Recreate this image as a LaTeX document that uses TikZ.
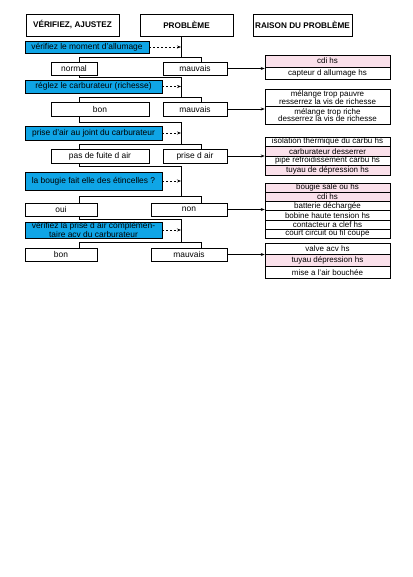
\documentclass[tikz,border=0pt]{standalone}
\usepackage{fontspec}
\setmainfont{Liberation Sans}
\usetikzlibrary{arrows.meta}
\definecolor{bleu}{RGB}{15,165,230}
\definecolor{rose}{RGB}{250,224,234}
\tikzset{
  every node/.style={font=\fontsize{8.4}{8}\selectfont, inner sep=0pt},
  tete/.style={draw, font=\fontsize{8.2}{8}\selectfont\bfseries, minimum height=22pt},
  test/.style={draw, fill=bleu},
  res/.style={draw, minimum height=13pt},
  cause/.style={draw, minimum width=125pt, align=center, font=\fontsize{8}{8}\selectfont},
  causer/.style={cause, fill=rose},
  fl/.style={-{Stealth[length=4pt,width=3pt]}},
  tir/.style={fl, dash pattern=on 2pt off 2pt},
}
\begin{document}
\begin{tikzpicture}[x=1pt, y=-1pt, line width=0.6pt]
\useasboundingbox (0,0) rectangle (412,577);
%en-tete
\node[tete, minimum width=93pt] (verif) at (72.5,25) {VÉRIFIEZ, AJUSTEZ};
\node[tete, minimum width=93pt] (prob) at (186.5,25) {PROBLÈME};
\node[tete, minimum width=99pt] (raison) at (302.5,25) {RAISON DU PROBLÈME};

%premier test
\node[test, minimum width=124pt, minimum height=12pt] (test1) at (87,47) {vérifiez le moment d'allumage};
\node[res, minimum width=46pt] (normal) at (74,68.5) {normal};
\node[res, minimum width=64pt] (mauv1) at (195,68.5) {mauvais};
\node[causer, minimum height=12pt] (cdi1) at (327.5,61) {cdi hs};
\node[cause, minimum height=12pt] (capt) at (327.5,73) {capteur d allumage hs};

%deuxieme test
\node[test, minimum width=137pt, minimum height=13pt] (test2) at (93.5,86.5) {réglez le carburateur (richesse)};
\node[res, minimum width=98pt, minimum height=14pt] (bon1) at (100,109) {bon};
\node[res, minimum width=64pt, minimum height=14pt] (mauv2) at (195,109) {mauvais};
\node[cause, minimum height=17.5pt] (pauvre) at (327.5,97.75) {mélange trop pauvre\\[-0.5pt]resserrez la vis de richesse};
\node[cause, minimum height=17.5pt] (riche) at (327.5,115.25) {mélange trop riche\\[-0.5pt]desserrez la vis de richesse};

%troisieme test
\node[test, minimum width=137pt, minimum height=14pt] (test3) at (93.5,133) {prise d'air au joint du carburateur};
\node[res, minimum width=98pt, minimum height=14pt] (fuite) at (100,156) {pas de fuite d air};
\node[res, minimum width=64pt, minimum height=14pt] (prise) at (195,156) {prise d air};
\node[cause, minimum height=9.5pt] (isol) at (327.5,141.75) {isolation thermique du carbu hs};
\node[causer, minimum height=9.5pt] (desser) at (327.5,151.25) {carburateur desserrer};
\node[cause, minimum height=9.5pt] (pipe) at (327.5,160.75) {pipe refroidissement carbu hs};
\node[causer, minimum height=9.5pt] (tuyau1) at (327.5,170.25) {tuyau de dépression hs};

%quatrieme test
\node[test, minimum width=137pt, minimum height=18pt] (test4) at (93.5,181) {la bougie fait elle des étincelles ?};
\node[res, minimum width=72pt] (oui) at (61,209.5) {oui};
\node[res, minimum width=76pt] (non) at (189,209.5) {non};
\node[causer, minimum height=9.2pt] (sale) at (327.5,187.6) {bougie sale ou hs};
\node[causer, minimum height=9.2pt] (cdi2) at (327.5,196.8) {cdi hs};
\node[cause, minimum height=9.2pt] (batt) at (327.5,206) {batterie déchargée};
\node[cause, minimum height=9.2pt] (bob) at (327.5,215.2) {bobine haute tension hs};
\node[cause, minimum height=9.2pt] (clef) at (327.5,224.4) {contacteur a clef hs};
\node[cause, minimum height=9.2pt] (court) at (327.5,233.6) {court circuit ou fil coupé};

%cinquieme test
\node[test, minimum width=137pt, minimum height=16pt, align=center, font=\fontsize{8.4}{6}\selectfont] (test5) at (93.5,230) {vérifiez la prise d air complémen-\\taire acv du carburateur};
\node[res, minimum width=72pt] (bon2) at (61,254.5) {bon};
\node[res, minimum width=76pt] (mauv3) at (189,254.5) {mauvais};
\node[cause, minimum height=11.67pt] (valve) at (327.5,248.83) {valve acv hs};
\node[causer, minimum height=11.67pt] (tuyau2) at (327.5,260.5) {tuyau dépression hs};
\node[cause, minimum height=11.67pt] (mise) at (327.5,272.17) {mise a l'air bouchée};

%points
\coordinate (t1) at (181,57); \coordinate (g1) at (79,57); \coordinate (d1) at (201,57);
\coordinate (j2) at (181,77); \coordinate (t2) at (181,97); \coordinate (g2) at (79,97); \coordinate (d2) at (201,97);
\coordinate (j3) at (181,122); \coordinate (t3) at (181,144); \coordinate (g3) at (79,144); \coordinate (d3) at (201,144);
\coordinate (j4) at (181,166); \coordinate (t4) at (181,196); \coordinate (g4) at (79,196); \coordinate (d4) at (201,196);
\coordinate (j5) at (181,219); \coordinate (t5) at (181,242); \coordinate (g5) at (79,242); \coordinate (d5) at (201,242);

\draw (prob.south -| t1) -- (t1);
\draw[tir] (test1.east) -- (test1.east -| t1);
\draw (g1 |- normal.north) -- (g1) -- (d1) -- (d1 |- mauv1.north);
\draw[fl] (mauv1.east) -- (cdi1.west |- mauv1.east);

\draw (g1 |- normal.south) |- (j2) -- (t2);
\draw[tir] (test2.east) -- (test2.east -| t2);
\draw (g2 |- bon1.north) -- (g2) -- (d2) -- (d2 |- mauv2.north);
\draw[fl] (mauv2.east) -- (pauvre.west |- mauv2.east);

\draw (g2 |- bon1.south) |- (j3) -- (t3);
\draw[tir] (test3.east) -- (test3.east -| t3);
\draw (g3 |- fuite.north) -- (g3) -- (d3) -- (d3 |- prise.north);
\draw[fl] (prise.east) -- (isol.west |- prise.east);

\draw (g3 |- fuite.south) |- (j4) -- (t4);
\draw[tir] (test4.east) -- (test4.east -| t4);
\draw (g4 |- oui.north) -- (g4) -- (d4) -- (d4 |- non.north);
\draw[fl] (non.east) -- (sale.west |- non.east);

\draw (g4 |- oui.south) |- (j5) -- (t5);
\draw[tir] (test5.east) -- (test5.east -| t5);
\draw (g5 |- bon2.north) -- (g5) -- (d5) -- (d5 |- mauv3.north);
\draw[fl] (mauv3.east) -- (valve.west |- mauv3.east);
\end{tikzpicture}
\end{document}
